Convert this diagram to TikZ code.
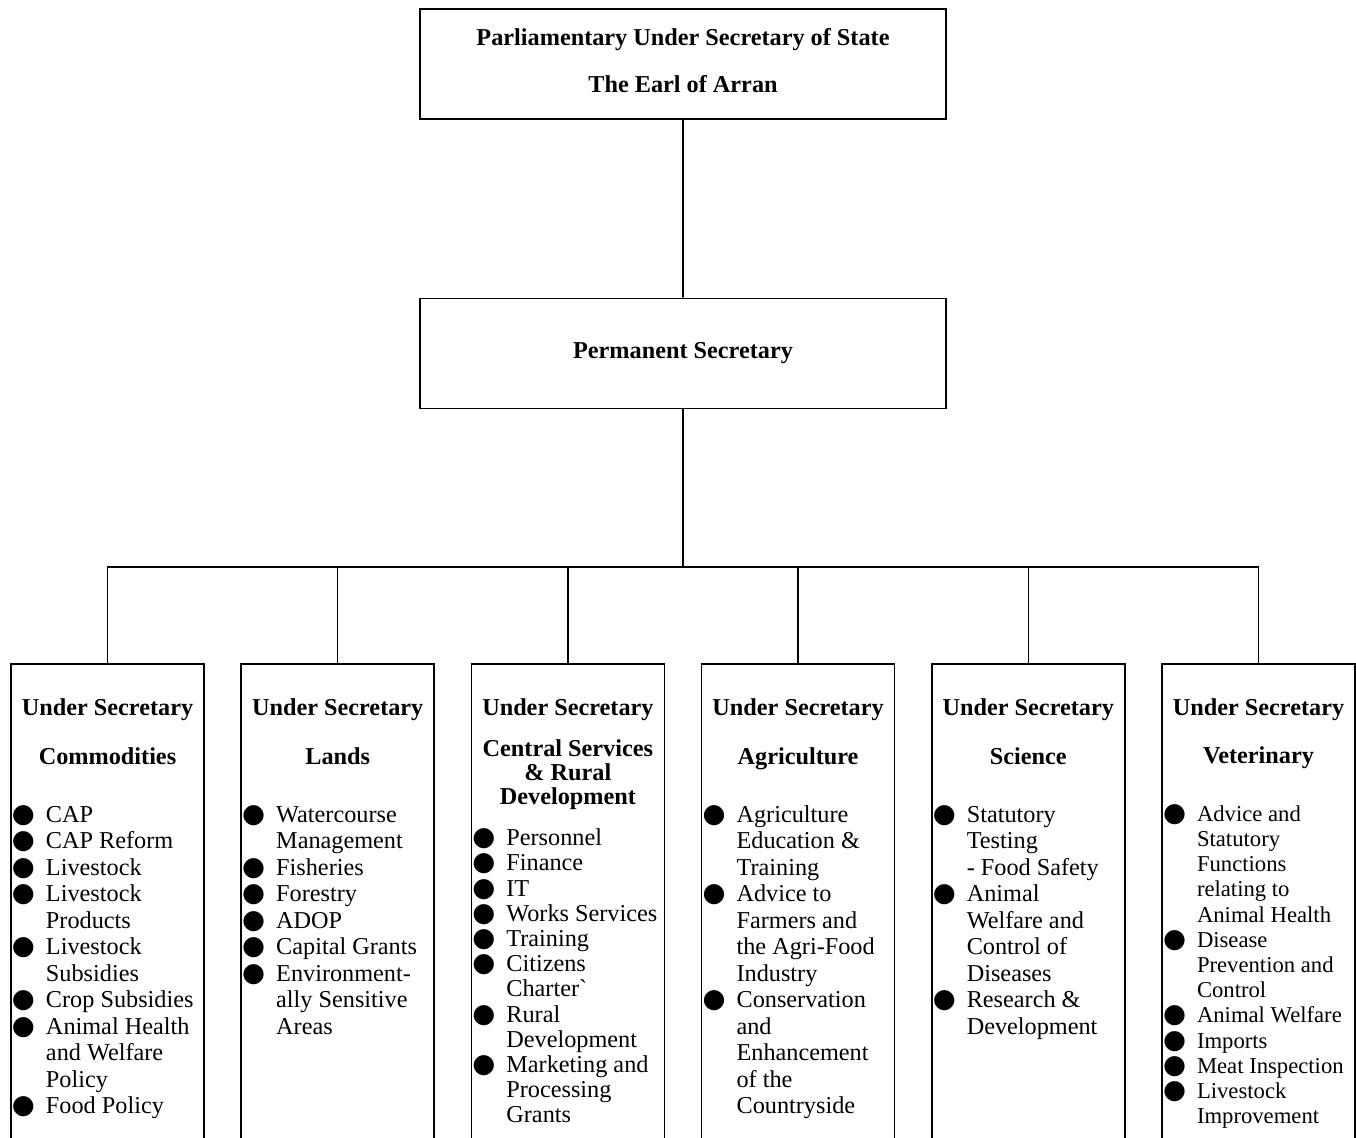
\documentclass[tikz,border=0pt]{standalone}
\usepackage{fontspec}
\setmainfont{Liberation Serif}
\newfontfamily\dotfont{DejaVu Sans}
\usepackage{tikz}
\usetikzlibrary{trees}

\newcommand{\bul}{\par\hangindent=0.70cm\hangafter=1\noindent\makebox[0.70cm][l]{\hspace{0.02cm}{\dotfont\fontsize{15}{15}\selectfont ●}}}

\begin{document}
\begin{tikzpicture}[line width=0.9pt,
	level 1/.style={level distance=5.79cm},
	level 2/.style={level distance=6.19cm, sibling distance=4.604cm,
		edge from parent path={(\tikzparentnode.south) -- ++(0,-3.16) -| (\tikzchildnode.north)}},
	headbox/.style={draw, minimum width=10.52cm, minimum height=2.2cm, inner sep=0pt, align=center,
		font=\fontsize{13.8}{15.08}\selectfont\bfseries},
	unitbox/.style={draw, anchor=north, inner sep=0pt, text height=1.04cm, text depth=10cm,
		font=\fontsize{13.8}{15.08}\selectfont}]
\useasboundingbox (0,0) rectangle (27.12,-22.76);
\node [headbox, text depth=0.16cm] (pus) at (13.66,-1.28) {Parliamentary Under Secretary of State\\[11.65pt] The Earl of Arran}
	child {node [headbox] (perm) {Permanent Secretary}
		child {node [unitbox] (comm) {\parbox[t]{3.86cm}{\centering\bfseries Under Secretary\\[12.5pt] Commodities\endgraf
			\vspace{17.9pt}\raggedright\let\\\newline\mdseries
			\bul CAP\bul CAP Reform\bul Livestock\bul Livestock\\ Products\bul Livestock\\ Subsidies
			\bul Crop Subsidies\bul Animal Health\\ and Welfare\\ Policy\bul Food Policy}}}
		child {node [unitbox] (lands) {\parbox[t]{3.86cm}{\centering\bfseries Under Secretary\\[12.5pt] Lands\endgraf
			\vspace{17.9pt}\raggedright\let\\\newline\mdseries
			\bul Watercourse\\ Management\bul Fisheries\bul Forestry\bul ADOP\bul Capital Grants
			\bul Environment-\\ ally Sensitive\\ Areas}}}
		child {node [unitbox] (csrd) {\parbox[t]{3.86cm}{\fontsize{13.8}{14.34}\selectfont
			\centering\bfseries Under Secretary\\[8.96pt] Central Services\\[-0.68pt] \& Rural\\[-0.68pt] Development\endgraf
			\vspace{8.96pt}\raggedright\let\\\newline\mdseries
			\bul Personnel\bul Finance\bul IT\bul Works Services\bul Training\bul Citizens\\ Charter\textasciigrave
			\bul Rural\\ Development\bul Marketing and\\ Processing\\ Grants}}}
		child {node [unitbox] (agri) {\parbox[t]{3.86cm}{\centering\bfseries Under Secretary\\[12.5pt] Agriculture\endgraf
			\vspace{17.9pt}\raggedright\let\\\newline\mdseries
			\bul Agriculture\\ Education \&\\ Training\bul Advice to\\ Farmers and\\ the Agri-Food\\ Industry
			\bul Conservation\\ and\\ Enhancement\\ of the\\ Countryside}}}
		child {node [unitbox] (sci) {\parbox[t]{3.86cm}{\centering\bfseries Under Secretary\\[12.5pt] Science\endgraf
			\vspace{17.9pt}\raggedright\let\\\newline\mdseries
			\bul Statutory\\ Testing\\ - Food Safety\bul Animal\\ Welfare and\\ Control of\\ Diseases
			\bul Research \&\\ Development}}}
		child {node [unitbox] (vet) {\parbox[t]{3.86cm}{\fontsize{13.8}{14.34}\selectfont
			\centering\bfseries Under Secretary\\[12.96pt] Veterinary\endgraf
			\vspace{18.46pt}\raggedright\let\\\newline\mdseries\fontsize{12.9}{14.34}\selectfont
			\bul Advice and\\ Statutory\\ Functions\\ relating to\\ Animal Health\bul Disease\\ Prevention and\\ Control
			\bul Animal~Welfare\bul Imports\bul Meat~Inspection\bul Livestock\\ Improvement}}}
	}
;
\end{tikzpicture}
\end{document}
